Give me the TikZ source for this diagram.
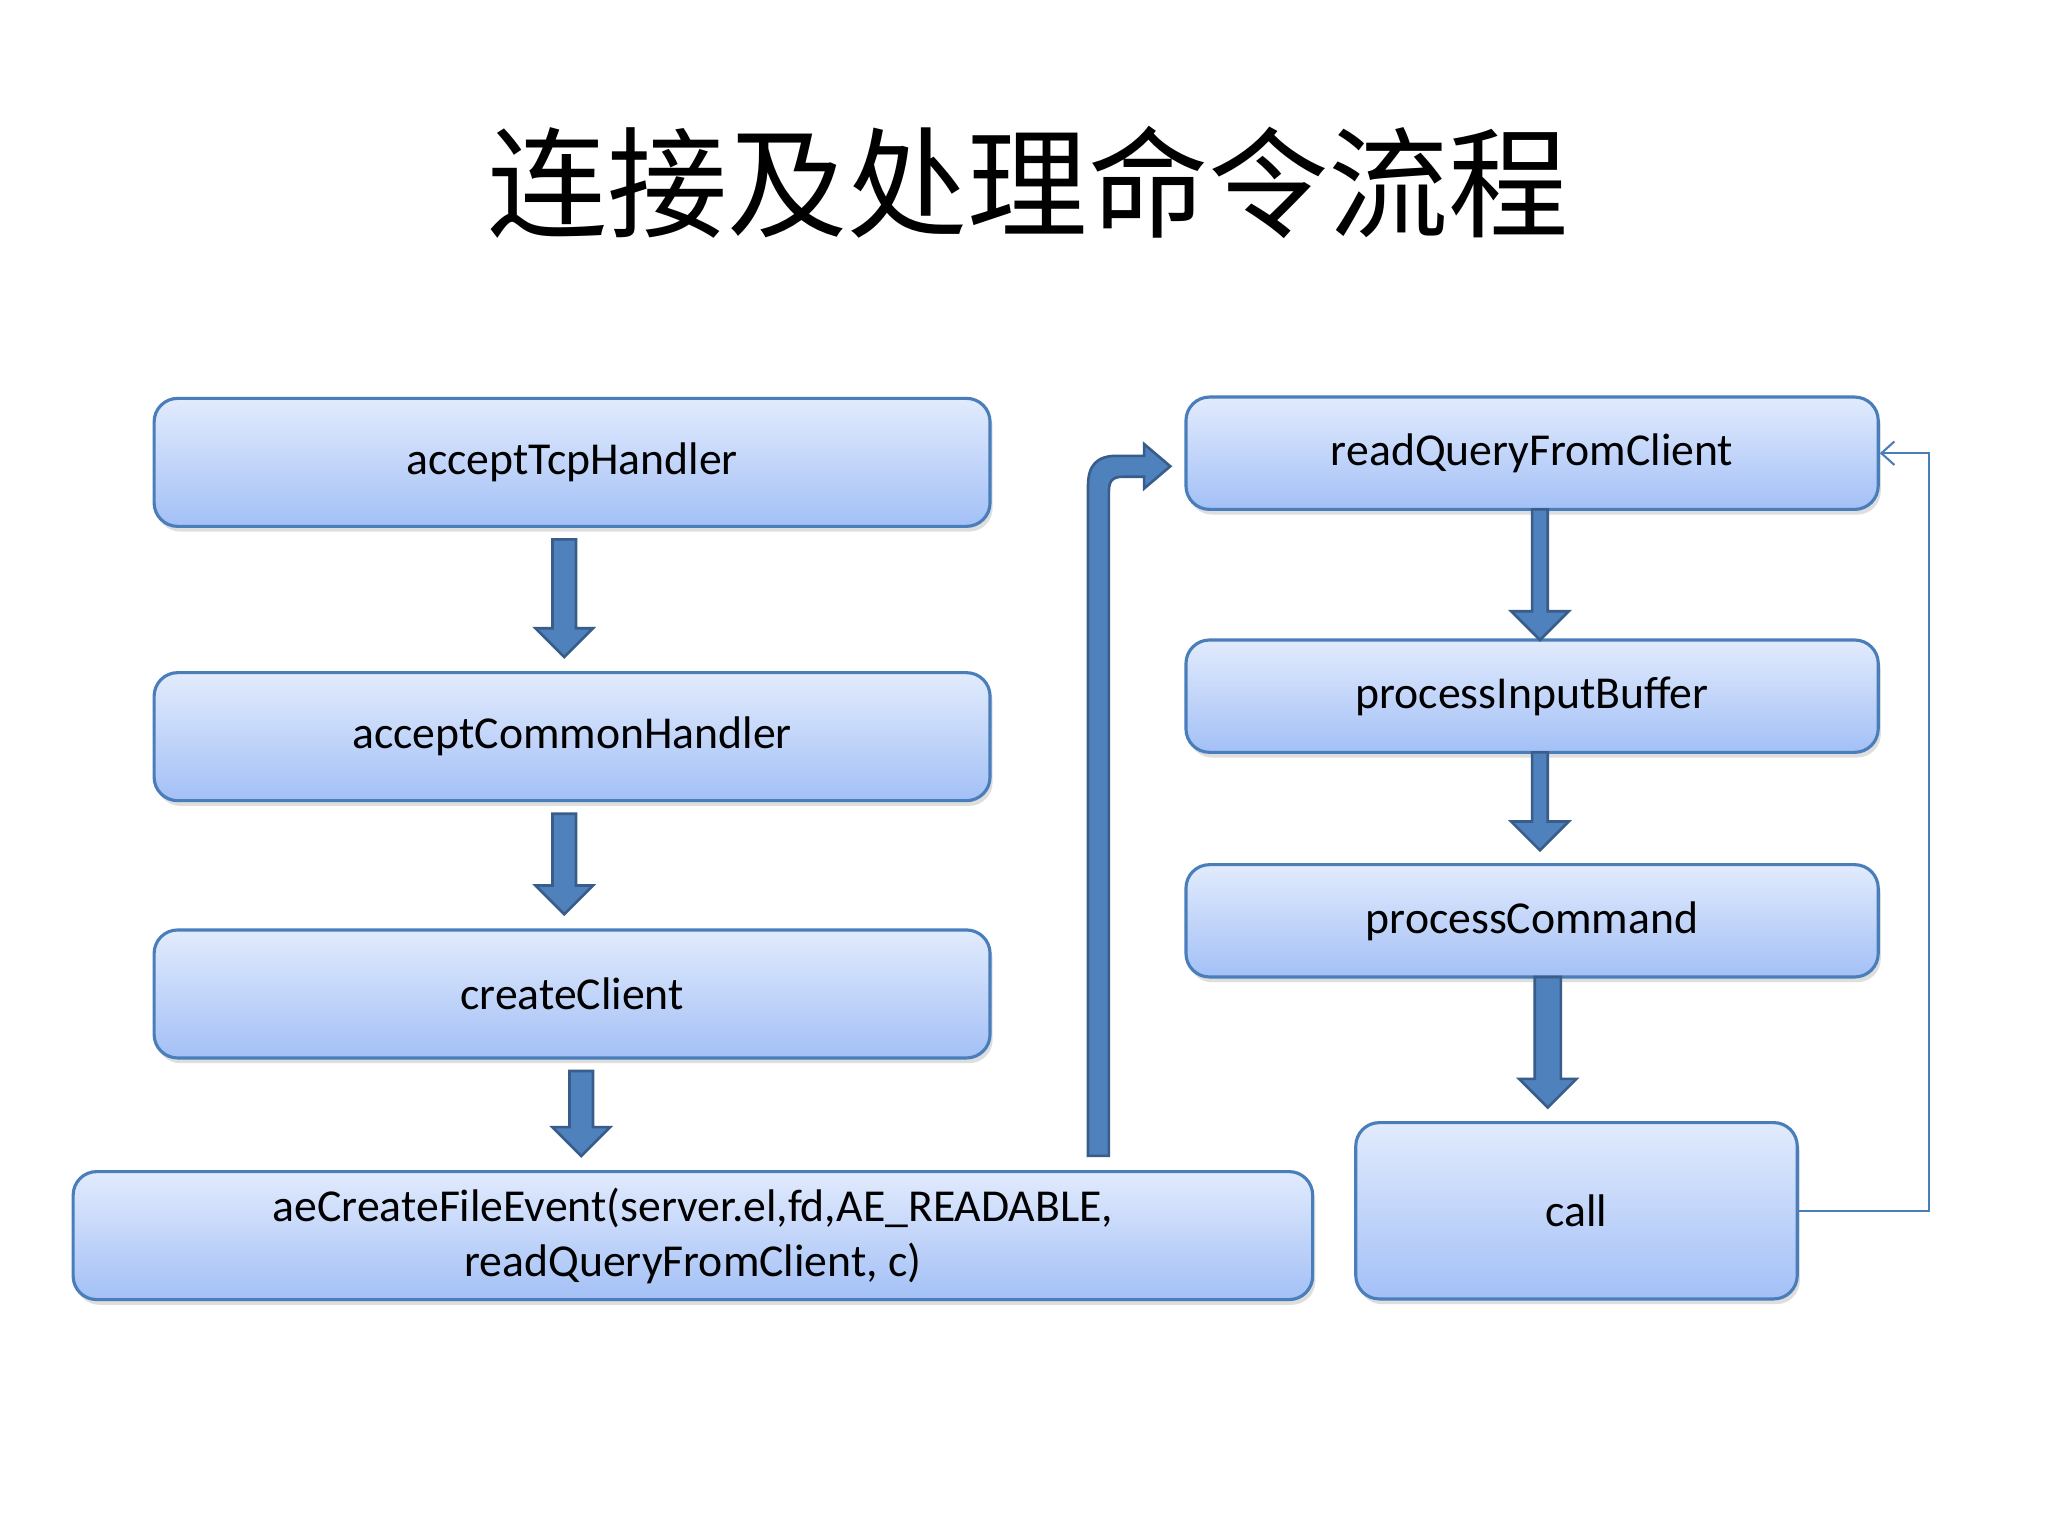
\documentclass[tikz,border=0pt]{standalone}
\usepackage{fontspec}
\setmainfont{Carlito}
\newfontfamily\cjk{Noto Sans CJK SC}
\usetikzlibrary{shadows,arrows.meta}
\definecolor{boxtop}{HTML}{E2EBFD}
\definecolor{boxbot}{HTML}{A3C0F6}
\definecolor{boxline}{HTML}{4A7EBB}
\definecolor{arrfill}{HTML}{4F81BD}
\definecolor{arrline}{HTML}{385D8A}
\tikzset{
  box/.style={draw=boxline,line width=1.2pt,rounded corners=9pt,top color=boxtop,bottom color=boxbot,
    drop shadow={shadow xshift=1pt,shadow yshift=-2pt,fill=black!25,opacity=0.5},
    font=\fontsize{17.5}{21}\selectfont,align=center,inner sep=0pt},
  fat/.style={fill=arrfill,draw=arrline,line width=1pt},
  thin/.style={draw=boxline,line width=0.8pt}
}
\newcommand{\fatdown}[4]{% x, ytop, ybot, halfshaft
  \path[fat] (#1-#4,#2)--(#1+#4,#2)--(#1+#4,#3-22)--(#1+22,#3-22)--(#1,#3)--(#1-22,#3-22)--(#1-#4,#3-22)--cycle;}
\begin{document}
\begin{tikzpicture}[x=0.5pt,y=-0.5pt]
\useasboundingbox[fill=white] (0,0) rectangle (1568,1176);
\node[font=\cjk\fontsize{46}{50}\selectfont] (title) at (787,140) {连接及处理命令流程};
\node[box,minimum width=320pt,minimum height=49pt] (a) at (438,354) {acceptTcpHandler};
\node[box,minimum width=320pt,minimum height=49pt] (b) at (438,564) {acceptCommonHandler};
\node[box,minimum width=320pt,minimum height=49pt] (c) at (438,761) {createClient};
\node[box,minimum width=474.5pt,minimum height=49pt] (d) at (530.5,946) {aeCreateFileEvent(server.el,fd,AE\_READABLE,\\readQueryFromClient, c)};
\node[box,minimum width=265pt,minimum height=43pt] (r) at (1173,347) {readQueryFromClient};
\node[box,minimum width=265pt,minimum height=43pt] (p) at (1173,533) {processInputBuffer};
\node[box,minimum width=265pt,minimum height=43pt] (pc) at (1173,705) {processCommand};
\node[box,minimum width=169pt,minimum height=67.5pt] (call) at (1207,927) {call};
\fatdown{432}{413}{503}{9}
\fatdown{432}{623}{700}{9}
\fatdown{445}{820}{885}{9}
\fatdown{1179}{390}{490}{6}
\fatdown{1179}{576}{651}{6}
\fatdown{1185}{748}{848}{10}
\path[fat] (833,885)--(833,372) .. controls (833,356) and (840,349) .. (855,349)--(876,349)--(876,340)--(896,357)--(876,374)--(876,365)--(860,365) .. controls (852,365) and (849,368) .. (849,376)--(849,885)--cycle;
\draw[thin,-{Straight Barb[length=5pt,width=9pt]}] (call.east) -- (1477,927) -- (1477,347) -- (r.east);
\end{tikzpicture}
\end{document}
